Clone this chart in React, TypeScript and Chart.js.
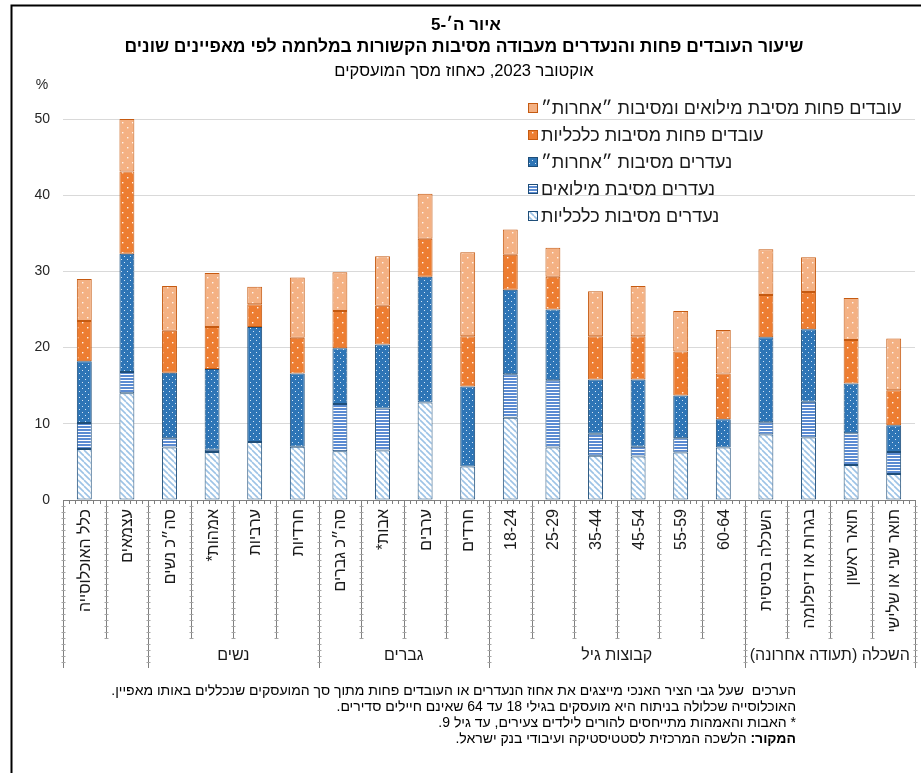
import React, { useEffect, useRef } from "react";
import { Chart, registerables } from "chart.js";
Chart.register(...registerables);

const categories = [
  "כלל האוכלוסייה", "עצמאים", "סה״כ נשים", "אמהות*", "ערביות", "חרדיות",
  "סה״כ גברים", "אבות*", "ערבים", "חרדים", "18-24", "25-29", "35-44", "45-54",
  "55-59", "60-64", "השכלה בסיסית", "בגרות או דיפלומה", "תואר ראשון", "תואר שני או שלישי",
];

const groupLabels = ["נשים", "גברים", "קבוצות גיל", "השכלה (תעודה אחרונה)"];
const groupBounds = [[2, 6], [6, 10], [10, 16], [16, 20]];

const seriesNames = [
  "נעדרים מסיבות כלכליות",
  "נעדרים מסיבת מילואים",
  "נעדרים מסיבות ״אחרות״",
  "עובדים פחות מסיבות כלכליות",
  "עובדים פחות מסיבת מילואים ומסיבות ״אחרות״",
];

const absentEconomic = [6.7, 14.0, 6.9, 6.3, 7.6, 7.0, 6.4, 6.5, 12.8, 4.4, 10.8, 6.9, 5.8, 5.7, 6.25, 6.9, 8.6, 8.2, 4.6, 3.4];
const absentReserve = [3.4, 2.8, 1.2, 0.3, 0, 0, 6.2, 5.5, 0, 0, 5.7, 8.8, 2.9, 1.3, 1.85, 0, 1.6, 4.7, 4.15, 2.9];
const absentOther = [8.1, 15.5, 8.6, 10.6, 15.1, 9.6, 7.3, 8.4, 16.5, 10.5, 11.1, 9.3, 7.1, 8.8, 5.6, 3.7, 11.15, 9.5, 6.55, 3.5];
const lessEconomic = [5.3, 10.8, 5.5, 5.5, 3.0, 4.7, 4.9, 5.1, 5.0, 6.6, 4.6, 4.3, 5.7, 5.7, 5.8, 6.0, 5.55, 4.9, 5.7, 4.6];
const lessReserveOther = [5.5, 6.9, 5.9, 7.1, 2.3, 7.9, 5.1, 6.5, 5.9, 11.0, 3.3, 3.8, 5.9, 6.6, 5.3, 5.7, 6.0, 4.55, 5.5, 6.8];

const yTicks = [0, 10, 20, 30, 40, 50];

const titleLines = [
  "איור ה׳-5",
  "שיעור העובדים פחות והנעדרים מעבודה מסיבות הקשורות במלחמה לפי מאפיינים שונים",
  "אוקטובר 2023, כאחוז מסך המועסקים",
];

const footnotes = [
  "הערכים  שעל גבי הציר האנכי מייצגים את אחוז הנעדרים או העובדים פחות מתוך סך המועסקים שנכללים באותו מאפיין.",
  "האוכלוסייה שכלולה בניתוח היא מועסקים בגילי 18 עד 64 שאינם חיילים סדירים.",
  "* האבות והאמהות מתייחסים להורים לילדים צעירים, עד גיל 9.",
];
const sourceLabel = "המקור:";
const sourceText = " הלשכה המרכזית לסטטיסטיקה ועיבודי בנק ישראל.";

const FONT = "'Liberation Sans', 'DejaVu Sans', Arial, sans-serif";
const W = 921;
const H = 773;

type Kind = "hatch" | "lines" | "blue" | "orange" | "light";

function makeTile(kind: Kind): HTMLCanvasElement {
  const c = document.createElement("canvas");
  const g = c.getContext("2d")!;
  if (kind === "hatch") {
    c.width = 6; c.height = 6;
    g.fillStyle = "#ffffff"; g.fillRect(0, 0, 6, 6);
    g.strokeStyle = "#9DC3E6"; g.lineWidth = 1.6;
    for (let k = -1; k <= 1; k++) {
      g.beginPath(); g.moveTo(k * 6, 0); g.lineTo(k * 6 + 6, 6); g.stroke();
    }
  } else if (kind === "lines") {
    c.width = 4; c.height = 3;
    g.fillStyle = "#ffffff"; g.fillRect(0, 0, 4, 3);
    g.fillStyle = "#5B8BD2"; g.fillRect(0, 0, 4, 2);
  } else if (kind === "blue") {
    c.width = 6; c.height = 6;
    g.fillStyle = "#2E75B6"; g.fillRect(0, 0, 6, 6);
    g.fillStyle = "#D6E6F5";
    g.fillRect(1, 1, 1, 1); g.fillRect(4, 4, 1, 1);
  } else {
    c.width = 10; c.height = 10;
    g.fillStyle = kind === "orange" ? "#ED7D31" : "#F4B183"; g.fillRect(0, 0, 10, 10);
    g.fillStyle = "#FFF3EA";
    g.fillRect(2, 2, 1.4, 1.4); g.fillRect(7, 7, 1.4, 1.4);
  }
  return c;
}

const kinds: Kind[] = ["hatch", "lines", "blue", "orange", "light"];
const borders = ["#1F4E79", "#1F4E79", "#1F4E79", "#C55A11", "#C55A11"];

export default function App() {
  const ref = useRef<HTMLCanvasElement | null>(null);

  useEffect(() => {
    document.body.style.margin = "0";
    const canvas = ref.current!;
    const ctx0 = canvas.getContext("2d")!;
    const patterns = kinds.map((k) => ctx0.createPattern(makeTile(k), "repeat")!);
    const values = [absentEconomic, absentReserve, absentOther, lessEconomic, lessReserveOther];

    const deco = {
      id: "deco",
      afterDraw(chart: any) {
        const ctx: CanvasRenderingContext2D = chart.ctx;
        const area = chart.chartArea;
        const left = area.left, right = area.right, bottom = area.bottom;
        const cw = (right - left) / categories.length;
        ctx.save();

        // frame
        ctx.strokeStyle = "#000"; ctx.lineWidth = 2;
        ctx.beginPath(); ctx.moveTo(11.5, H); ctx.lineTo(11.5, 5.5); ctx.lineTo(W, 5.5); ctx.stroke();

        // titles
        ctx.direction = "rtl";
        ctx.fillStyle = "#000";
        ctx.textAlign = "center"; ctx.textBaseline = "middle";
        ctx.font = `bold 17px ${FONT}`;
        ctx.fillText(titleLines[0], 466, 25);
        ctx.font = `bold 17.5px ${FONT}`;
        ctx.fillText(titleLines[1], 464, 47);
        ctx.font = `16.5px ${FONT}`;
        ctx.fillText(titleLines[2], 464, 71);

        // % label
        ctx.direction = "ltr";
        ctx.font = `14px ${FONT}`; ctx.fillStyle = "#262626";
        ctx.fillText("%", 42, 85);

        // legend
        const legY = [108, 135, 162, 189, 216];
        for (let i = 0; i < 5; i++) {
          const s = 4 - i;
          const y = legY[i];
          ctx.fillStyle = patterns[s] as any;
          ctx.fillRect(528, y - 5, 10, 10);
          ctx.strokeStyle = borders[s]; ctx.lineWidth = 1;
          ctx.strokeRect(528.5, y - 4.5, 9, 9);
          ctx.direction = "rtl"; ctx.textAlign = "left"; ctx.textBaseline = "middle";
          ctx.fillStyle = "#1a1a1a"; ctx.font = `18px ${FONT}`;
          ctx.fillText(seriesNames[s], 541, y + 1);
        }

        // x axis line & minor ticks
        ctx.strokeStyle = "#7f7f7f"; ctx.lineWidth = 1;
        ctx.beginPath(); ctx.moveTo(left, bottom + 0.5); ctx.lineTo(right, bottom + 0.5); ctx.stroke();
        ctx.beginPath();
        for (let x = left; x <= right + 0.1; x += cw / 7) {
          const xx = Math.round(x) + 0.5;
          ctx.moveTo(xx, bottom); ctx.lineTo(xx, bottom + 4);
        }
        ctx.stroke();

        // separators
        const groupEdges = new Set([0, 2, 6, 10, 16, 20]);
        for (let i = 0; i <= categories.length; i++) {
          const xx = Math.round(left + i * cw) + 0.5;
          const yEnd = groupEdges.has(i) ? 668 : 639;
          ctx.strokeStyle = "#7f7f7f";
          ctx.beginPath(); ctx.moveTo(xx, bottom); ctx.lineTo(xx, yEnd); ctx.stroke();
          ctx.strokeStyle = "#a6a6a6";
          ctx.beginPath();
          for (let y = bottom + 6; y < yEnd; y += 6) {
            ctx.moveTo(xx - 2, y + 0.5); ctx.lineTo(xx + 2, y + 0.5);
          }
          ctx.stroke();
        }

        // category labels (rotated)
        ctx.fillStyle = "#1a1a1a";
        ctx.font = `16px ${FONT}`;
        ctx.direction = "rtl";
        ctx.textAlign = "right"; ctx.textBaseline = "middle";
        for (let i = 0; i < categories.length; i++) {
          const cx = left + (i + 0.5) * cw;
          ctx.save();
          ctx.translate(cx + 1, bottom + 9);
          ctx.rotate(-Math.PI / 2);
          ctx.fillText(categories[i], 0, 0);
          ctx.restore();
        }

        // group labels
        ctx.textAlign = "center";
        for (let g = 0; g < groupLabels.length; g++) {
          const [a, b] = groupBounds[g];
          const cx = left + ((a + b) / 2) * cw;
          ctx.fillText(groupLabels[g], cx, 656);
        }

        // footnotes
        ctx.direction = "rtl"; ctx.textAlign = "right"; ctx.textBaseline = "middle";
        ctx.font = `14px ${FONT}`; ctx.fillStyle = "#000";
        const fx = 796;
        const fy = [691, 707, 723, 739];
        for (let i = 0; i < footnotes.length; i++) ctx.fillText(footnotes[i], fx, fy[i]);
        ctx.font = `bold 14px ${FONT}`;
        ctx.fillText(sourceLabel, fx, fy[3]);
        const wb = ctx.measureText(sourceLabel).width;
        ctx.font = `14px ${FONT}`;
        ctx.fillText(sourceText, fx - wb, fy[3]);

        ctx.restore();
      },
    };

    const chart = new Chart(canvas, {
      type: "bar",
      data: {
        labels: categories,
        datasets: values.map((v, i) => ({
          label: seriesNames[i],
          data: v,
          backgroundColor: patterns[i] as any,
          borderColor: borders[i],
          borderWidth: 1,
          borderSkipped: false,
          barPercentage: 0.35,
          categoryPercentage: 1,
        })),
      },
      options: {
        animation: false,
        responsive: false,
        devicePixelRatio: 1,
        layout: { padding: { top: 119, bottom: H - 500, left: 0, right: W - 915 } },
        plugins: { legend: { display: false }, tooltip: { enabled: false }, title: { display: false } },
        scales: {
          x: { stacked: true, display: false },
          y: {
            stacked: true,
            min: 0,
            max: 50,
            afterFit: (s: any) => { s.width = 63; },
            afterBuildTicks: (s: any) => { s.ticks = yTicks.map((v) => ({ value: v })); },
            grid: { color: "#d9d9d9", drawTicks: false },
            border: { display: false },
            ticks: { padding: 13, color: "#262626", font: { size: 14, family: FONT } },
          },
        },
      },
      plugins: [deco],
    });
    return () => chart.destroy();
  }, []);

  return (
    <div style={{ position: "absolute", left: 0, top: 0, width: W, height: H, background: "#fff" }}>
      <canvas ref={ref} width={W} height={H} style={{ width: W, height: H, display: "block" }} />
    </div>
  );
}
